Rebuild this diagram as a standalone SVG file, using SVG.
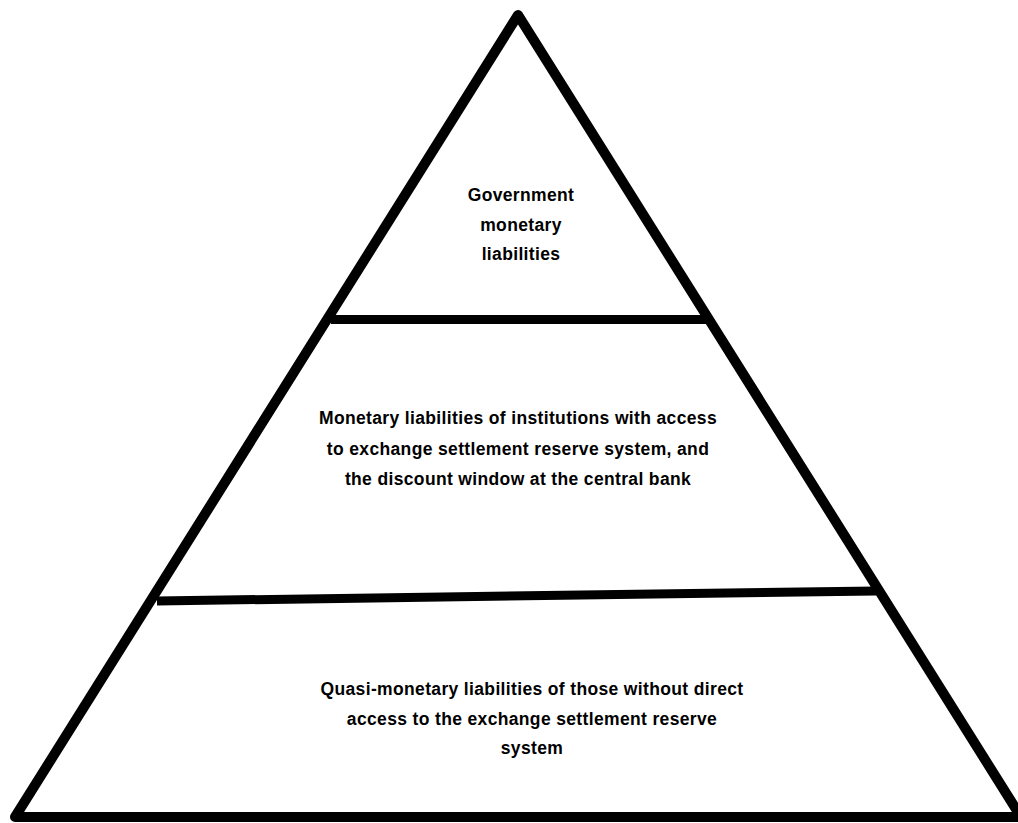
<svg xmlns="http://www.w3.org/2000/svg" width="1018" height="823" viewBox="0 0 1018 823">
  <style>
    .edge { fill: none; stroke: #000; stroke-width: 10; stroke-linejoin: round; stroke-linecap: round; }
    .tier { stroke: #000; stroke-width: 9; }
    .label { font-family: "Liberation Sans", Arial, sans-serif; font-weight: bold; font-size: 17.5px; letter-spacing: 0.35px; fill: #000; text-anchor: middle; }
  </style>
  <rect width="1018" height="823" fill="#fff"/>
  <!-- pyramid outline and tier dividers -->
  <g id="connectors">
    <polygon class="edge" points="518,15 1021,817 15,817"/>
    <line class="tier" x1="331" y1="319.5" x2="706" y2="319.5"/>
    <line class="tier" x1="157" y1="601" x2="876" y2="591"/>
  </g>
  <g id="tier-top">
    <text class="label" x="521" y="201">Government</text>
    <text class="label" x="521" y="231">monetary</text>
    <text class="label" x="521" y="260">liabilities</text>
  </g>
  <g id="tier-middle">
    <text class="label" x="518" y="424">Monetary liabilities of institutions with access</text>
    <text class="label" x="518" y="455">to exchange settlement reserve system, and</text>
    <text class="label" x="518" y="485">the discount window at the central bank</text>
  </g>
  <g id="tier-bottom">
    <text class="label" x="532" y="695">Quasi-monetary liabilities of those without direct</text>
    <text class="label" x="532" y="725">access to the exchange settlement reserve</text>
    <text class="label" x="532" y="754">system</text>
  </g>
</svg>
